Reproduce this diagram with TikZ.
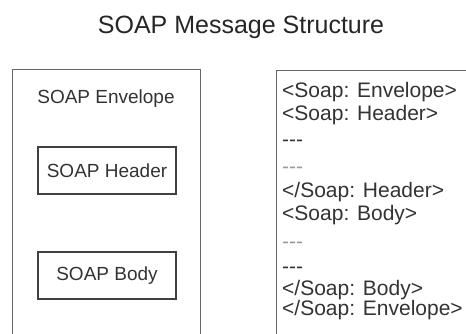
\documentclass[tikz,border=0pt]{standalone}
\usepackage{fontspec}
\setmainfont{Liberation Sans}
\usetikzlibrary{positioning}

\begin{document}
\begin{tikzpicture}[x=1pt,y=-1pt,
    frame/.style={draw=black!60,line width=1.3pt,anchor=north west},
    part/.style={draw=black!75,line width=1.4pt,minimum width=138pt,minimum height=47pt,
      font=\fontsize{19}{22}\selectfont,text=black!80},
    code/.style={anchor=base west,inner sep=0pt,font=\fontsize{21}{24}\selectfont}]
  \useasboundingbox (0,0) rectangle (466,333);
  \clip (0,0) rectangle (466,333);
  \node[anchor=base,font=\fontsize{25}{30}\selectfont,text=black!85] (title) at (241,33) {SOAP Message Structure};
  \node[frame,minimum width=188pt,minimum height=290pt] (env) at (12,69) {};
  \node[anchor=base,font=\fontsize{19}{22}\selectfont,text=black!80] (envlabel) at (106,103) {SOAP Envelope};
  \node[part] (header) at (107,170.5) {SOAP Header};
  \node[part] (body) at (107,275.5) {SOAP Body};
  \node[frame,minimum width=220pt,minimum height=290pt] (xml) at (276,70) {};
  \foreach \yy/\txt/\tone [count=\i] in {97/{<Soap: Envelope>}/80, 120/{<Soap: Header>}/80,
      146/{-{}-{}-}/80, 173/{-{}-{}-}/40, 197/{</Soap: Header>}/80, 220/{<Soap: Body>}/80,
      248/{-{}-{}-}/40, 273/{-{}-{}-}/80, 295/{</Soap: Body>}/80, 315/{</Soap: Envelope>}/80}
    \node[code,text=black!\tone] (line\i) at (282,\yy) {\txt};
\end{tikzpicture}
\end{document}
